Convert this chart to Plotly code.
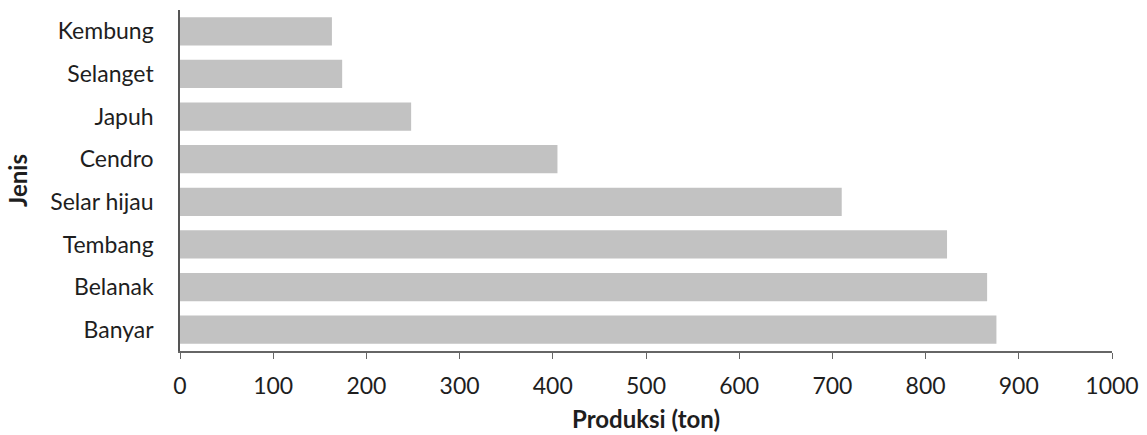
import plotly.graph_objects as go

categories = ["Kembung", "Selanget", "Japuh", "Cendro", "Selar hijau", "Tembang", "Belanak", "Banyar"]
production = [163, 174, 248, 405, 710, 823, 866, 876]
x_ticks = [0, 100, 200, 300, 400, 500, 600, 700, 800, 900, 1000]

font_family = "Lato, Carlito, sans-serif"

fig = go.Figure(
    go.Bar(
        y=categories,
        x=production,
        orientation="h",
        marker=dict(color="rgb(194,194,194)", line=dict(width=0)),
    )
)

fig.update_layout(
    width=1147,
    height=435,
    margin=dict(l=180, r=35, t=10, b=84),
    paper_bgcolor="white",
    plot_bgcolor="white",
    bargap=0.34,
    showlegend=False,
    font=dict(family=font_family, size=23, color="#1e1e1e"),
)

fig.update_xaxes(
    range=[0, 1000],
    tickvals=x_ticks,
    ticktext=[str(v) for v in x_ticks],
    showgrid=False,
    zeroline=False,
    showline=True,
    linecolor="#666",
    linewidth=1.5,
    ticks="outside",
    ticklen=6,
    tickcolor="#666",
    ticklabelstandoff=8,
    automargin=False,
    title=dict(text="<b>Produksi (ton)</b>", font=dict(size=24), standoff=13),
)

fig.update_yaxes(
    categoryorder="array",
    categoryarray=list(reversed(categories)),
    showgrid=False,
    zeroline=False,
    showline=True,
    linecolor="#555",
    linewidth=1.5,
    ticks="",
    ticklabelstandoff=20,
    automargin=False,
    title=dict(text="<b>Jenis</b>", font=dict(size=24), standoff=16),
)

fig.write_html("out.html")
